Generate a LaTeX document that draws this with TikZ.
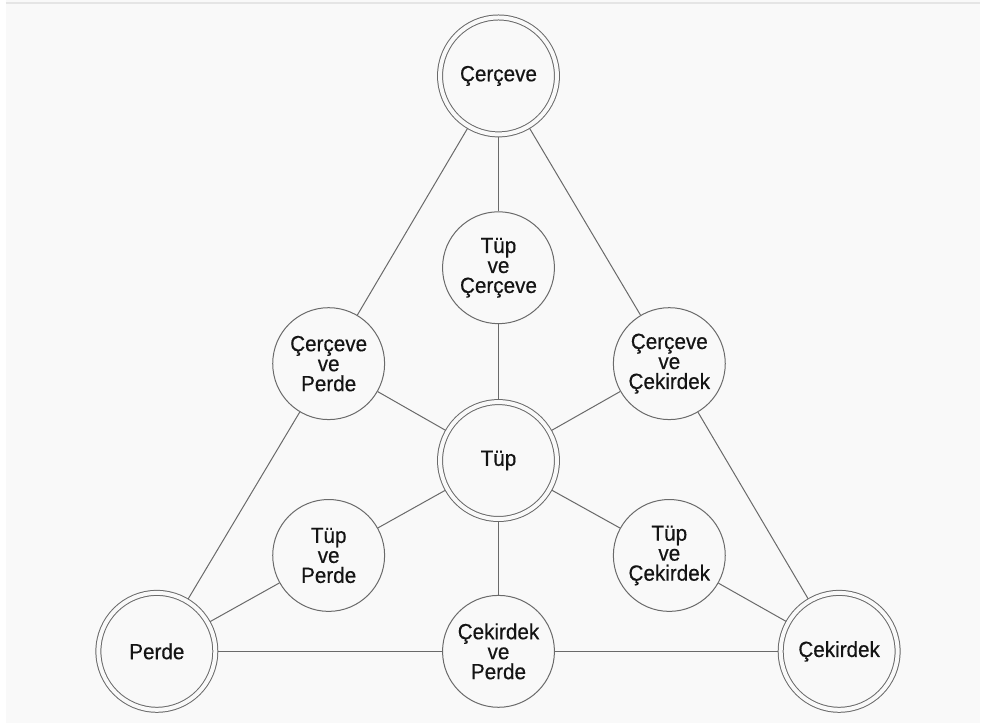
\documentclass[tikz,border=0pt]{standalone}
\usepackage{fontspec}
\setmainfont{Liberation Sans}[FakeStretch=0.94,FakeBold=0.4]
\definecolor{paper}{HTML}{F9F9F9}
\definecolor{ink}{HTML}{6A6A6A}
\definecolor{txt}{HTML}{141414}
\begin{document}
\begin{tikzpicture}[x=1pt,y=-1pt,
  every node/.style={text=txt,font=\fontsize{22}{20}\selectfont,align=center},
  leaf/.style={circle,draw=ink,line width=1pt,fill=paper,minimum size=112pt,inner sep=0pt},
  pillar/.style={circle,draw=ink,line width=1pt,double=paper,double distance=4pt,
                 minimum size=117pt,inner sep=0pt,outer sep=2.5pt},
  link/.style={draw=ink,line width=1pt}]
  % page
  \fill[white] (0,0) rectangle (981,724);
  \fill[paper] (6,0) rectangle (981,724);
  \draw[color=black!10,line width=2pt] (6,2.5) -- (981,2.5);
  \useasboundingbox (0,0) rectangle (981,724);

  % the four main elements
  \node[pillar] (frame) at (499,76)  {Çerçeve};
  \node[pillar] (tube)  at (499,461) {Tüp};
  \node[pillar] (wall)  at (157,652) {Perde};
  \node[pillar] (core)  at (840,652) {Çekirdek};

  % combinations
  \node[leaf] (tubeframe) at (499,268) {Tüp\\ve\\Çerçeve};
  \node[leaf] (framewall) at (329,364) {Çerçeve\\ve\\Perde};
  \node[leaf] (framecore) at (670,364) {Çerçeve\\ve\\Çekirdek};
  \node[leaf] (tubewall)  at (329,556) {Tüp\\ve\\Perde};
  \node[leaf] (tubecore)  at (670,556) {Tüp\\ve\\Çekirdek};
  \node[leaf] (corewall)  at (499,652) {Çekirdek\\ve\\Perde};

  % outer triangle
  \path[link] (frame) -- (framewall) (framewall) -- (wall);
  \path[link] (frame) -- (framecore) (framecore) -- (core);
  \path[link] (wall) -- (corewall) (corewall) -- (core);
  % spokes through the centre
  \path[link] (frame) -- (tubeframe) (tubeframe) -- (tube);
  \path[link] (tube) -- (corewall);
  \path[link] (tube) -- (framewall);
  \path[link] (tube) -- (framecore);
  \path[link] (tube) -- (tubewall) (tubewall) -- (wall);
  \path[link] (tube) -- (tubecore) (tubecore) -- (core);
\end{tikzpicture}
\end{document}
